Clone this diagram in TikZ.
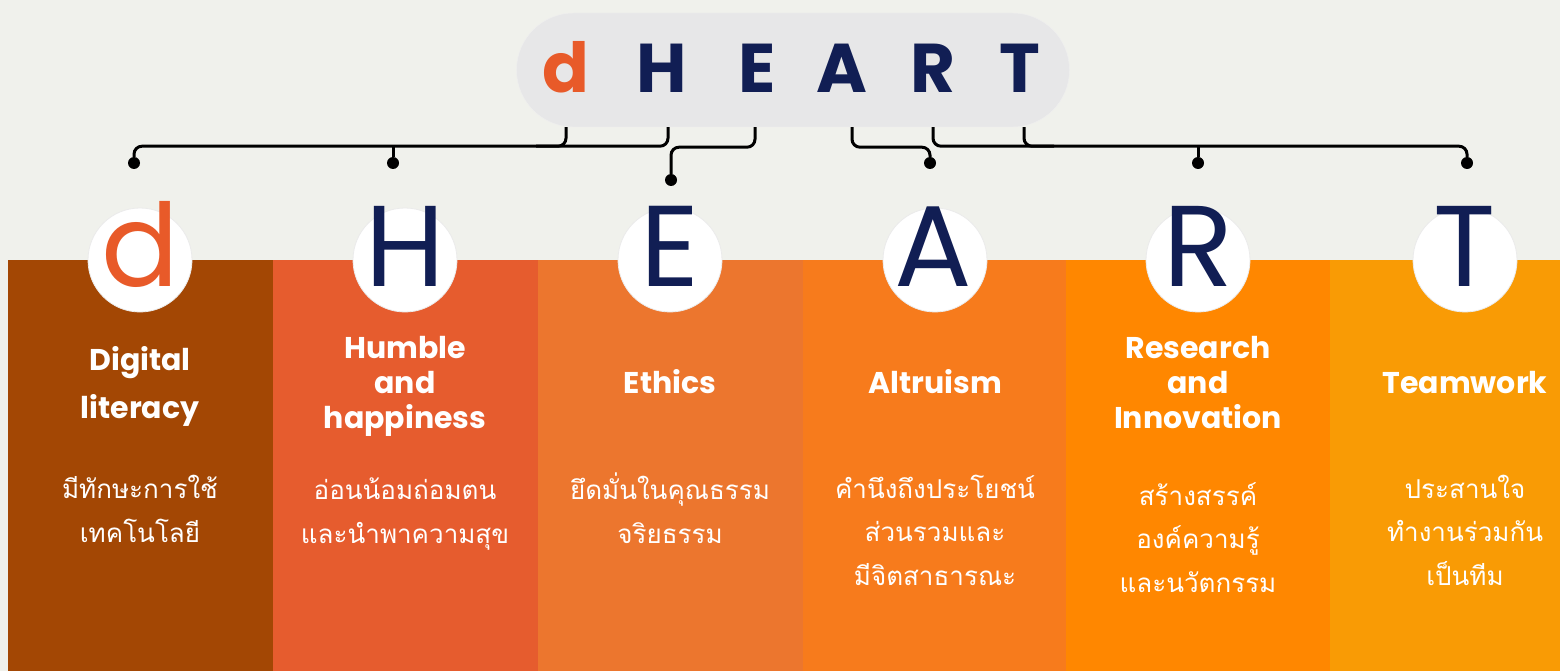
\documentclass[tikz,border=0pt]{standalone}
\usepackage{fontspec}
\usepackage{xcolor}
\usepackage{tikz}
\setmainfont{Poppins}
\newfontfamily\thaifont[Script=Thai]{Loma}
\definecolor{paper}{HTML}{F0F1EC}
\definecolor{pillgrey}{HTML}{E7E7E8}
\definecolor{navy}{HTML}{111E54}
\definecolor{dorange}{HTML}{E85A29}
\definecolor{colD}{HTML}{A34704}
\definecolor{colH}{HTML}{E65C2E}
\definecolor{colE}{HTML}{EC762E}
\definecolor{colA}{HTML}{F77B1C}
\definecolor{colR}{HTML}{FF8700}
\definecolor{colT}{HTML}{F99B05}

\tikzset{
	wire/.style={line width=3pt,rounded corners=8pt},
	pin/.style={circle,fill=black,inner sep=0pt,minimum size=12pt},
	badge/.style={circle,fill=white,draw=black!8,line width=0.8pt,minimum size=104pt,inner sep=0pt},
	bigletter/.style={anchor=base,inner sep=0pt,font=\fontsize{115}{115}\selectfont,text=navy},
	pillletter/.style={anchor=base,inner sep=0pt,font=\fontsize{69}{69}\selectfont\bfseries,text=navy},
	heading/.style={anchor=base,inner sep=0pt,align=center,text=white,font=\fontsize{30}{35}\selectfont\bfseries},
	thaitext/.style={anchor=base,inner sep=0pt,align=center,text=white,font=\fontsize{26}{43.5}\selectfont\thaifont}
}

\begin{document}
\begin{tikzpicture}[x=1pt,y=-1pt]
				\fill[paper] (0,0) rectangle (1560,671);
				\useasboundingbox (0,0) rectangle (1560,671);
				
				\coordinate (c1) at (140,260);%d
				\coordinate (c2) at (405,260);%H
				\coordinate (c3) at (670,260);%E
				\coordinate (c4) at (935,260);%A
				\coordinate (c5) at (1198,260);%R
				\coordinate (c6) at (1465,260);%T
				
				% columns
				\fill[colD] (8,260) rectangle (273,671);
				\fill[colH] (273,260) rectangle (538,671);
				\fill[colE] (538,260) rectangle (803,671);
				\fill[colA] (803,260) rectangle (1066,671);
				\fill[colR] (1066,260) rectangle (1330,671);
				\fill[colT] (1330,260) rectangle (1560,671);
				
				% pill with the word
				\node[fill=pillgrey,draw=black!6,rounded corners=57pt,minimum width=553pt,minimum height=114pt] (pill) at (793,70) {};
				\node[pillletter,text=dorange] (p1) at (566,93) {d};
				\node[pillletter] (p2) at (662,93) {H};
				\node[pillletter] (p3) at (757,93) {E};
				\node[pillletter] (p4) at (842,93) {A};
				\node[pillletter] (p5) at (933,93) {R};
				\node[pillletter] (p6) at (1020,93) {T};
				
				% badges
				\node[badge] (b1) at (c1) {};
				\node[badge] (b2) at (c2) {};
				\node[badge] (b3) at (c3) {};
				\node[badge] (b4) at (c4) {};
				\node[badge] (b5) at (c5) {};
				\node[badge] (b6) at (c6) {};
				\node[bigletter,text=dorange] (l1) at (140,286) {d};
				\node[bigletter] (l2) at (405,286) {H};
				\node[bigletter] (l3) at (670,286) {E};
				\node[bigletter] (l4) at (933,286) {A};
				\node[bigletter] (l5) at (1198,286) {R};
				\node[bigletter] (l6) at (1465,286) {T};
				
				% pins
				\node[pin] (d1) at (134,163) {};
				\node[pin] (d2) at (393,163) {};
				\node[pin] (d3) at (671,180) {};
				\node[pin] (d4) at (930,163) {};
				\node[pin] (d5) at (1198,163) {};
				\node[pin] (d6) at (1467,163) {};
				
				% wires
				\draw[wire] ([xshift=6pt]p2.south |- pill.south) -- ++(0,19) -| (d1);
				\draw[wire] (p1.south |- pill.south) -- ++(0,19) -- ++(-30,0);
				\draw[wire] (d2) -- ++(0,-17);
				\draw[wire] ([xshift=-2pt]p3.south |- pill.south) -- ++(0,20) -| (d3);
				\draw[wire] ([xshift=10pt]p4.south |- pill.south) -- ++(0,20) -| (d4);
				\draw[wire] (p5.south |- pill.south) -- ++(0,19) -| (d6);
				\draw[wire] ([xshift=4pt]p6.south |- pill.south) -- ++(0,19) -- ++(30,0);
				\draw[wire] (d5) -- ++(0,-17);
				
				% headings (anchored at the last line)
				\node[heading,font=\fontsize{30}{48}\selectfont\bfseries] (h1) at (140,418) {Digital\\literacy};
				\node[heading] (h2) at (405,428) {Humble\\and\\happiness};
				\node[heading] (h3) at (670,393) {Ethics};
				\node[heading] (h4) at (935,393) {Altruism};
				\node[heading] (h5) at (1198,428) {Research\\and\\Innovation};
				\node[heading] (h6) at (1465,393) {Teamwork};
				
				% thai lines
				\node[thaitext] (t1) at (140,542) {มีทักษะการใช้\\เทคโนโลยี};
				\node[thaitext] (t2) at (405,543) {อ่อนน้อมถ่อมตน\\และนำพาความสุข};
				\node[thaitext] (t3) at (670,543) {ยึดมั่นในคุณธรรม\\จริยธรรม};
				\node[thaitext] (t4) at (935,585) {คำนึงถึงประโยชน์\\ส่วนรวมและ\\มีจิตสาธารณะ};
				\node[thaitext] (t5) at (1198,592) {สร้างสรรค์\\องค์ความรู้\\และนวัตกรรม};
				\node[thaitext] (t6) at (1465,585) {ประสานใจ\\ทำงานร่วมกัน\\เป็นทีม};
\end{tikzpicture}
\end{document}
